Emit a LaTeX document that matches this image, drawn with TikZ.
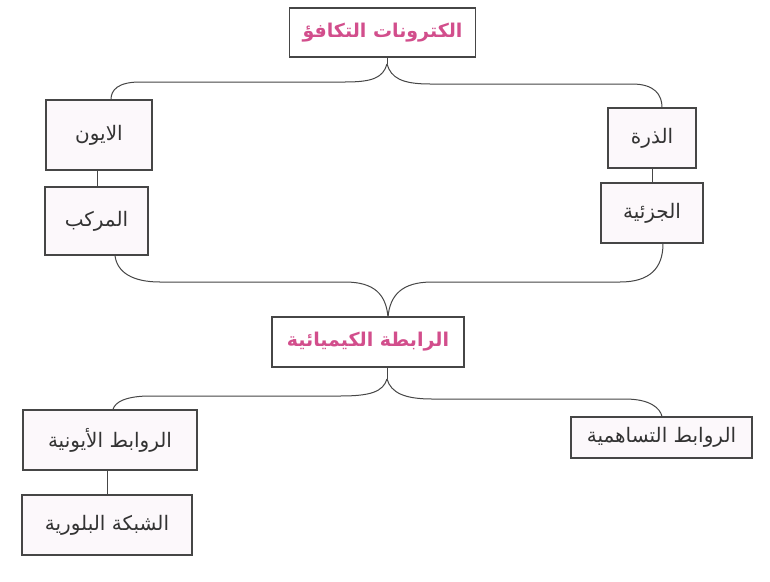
\documentclass[tikz,border=0pt]{standalone}
\usepackage{fontspec}
\newfontfamily\arabicfont[Script=Arabic]{DejaVu Sans}
\TeXXeTstate=1
\definecolor{boxfill}{RGB}{252,248,251}
\definecolor{edge}{RGB}{70,70,70}
\definecolor{titlepink}{RGB}{210,78,140}
\begin{document}
\begin{tikzpicture}[x=1pt,y=-1pt,
  box/.style={draw=edge,line width=1.2pt,fill=boxfill,inner sep=0pt,font=\arabicfont\fontsize{20}{24}\selectfont,text=black!80},
  headbox/.style={box,fill=white,font=\arabicfont\bfseries\fontsize{19}{23}\selectfont,text=titlepink},
  link/.style={draw=edge,line width=1pt}]
\useasboundingbox[fill=white] (0,0) rectangle (770,581);
\node[headbox,minimum width=186pt,minimum height=49pt] (title) at (382.5,32.5) {\beginR الكترونات التكافؤ\endR};
\node[box,minimum width=106pt,minimum height=70pt] (ion) at (99,135) {\beginR الايون\endR};
\node[box,minimum width=103pt,minimum height=68pt] (comp) at (96.5,221) {\beginR المركب\endR};
\node[box,minimum width=88pt,minimum height=60pt] (atom) at (652,138) {\beginR الذرة\endR};
\node[box,minimum width=102pt,minimum height=60pt] (mol) at (652,213) {\beginR الجزئية\endR};
\node[headbox,minimum width=192pt,minimum height=50pt] (chem) at (368,342) {\beginR الرابطة الكيميائية\endR};
\node[box,minimum width=174pt,minimum height=60pt] (ionic) at (110,440) {\beginR الروابط الأيونية\endR};
\node[box,minimum width=170pt,minimum height=60pt] (cryst) at (107,525) {\beginR الشبكة البلورية\endR};
\node[box,minimum width=181pt,minimum height=41pt] (coval) at (661.5,437.5) {\beginR الروابط التساهمية\endR};
\coordinate (c1) at (387,64);
\coordinate (c2) at (388,317);
\coordinate (c3) at (387,379);
% top brace
\draw[link] ([xshift=4.5pt]title.south) -- (c1);
\draw[link] (c1) .. controls (383,78) and (372,82) .. (345,82) -- (140,82) .. controls (118,82) and (111,90) .. ([xshift=12pt]ion.north);
\draw[link] (c1) .. controls (391,78) and (402,84) .. (430,84) -- (632,84) .. controls (655,84) and (662,95) .. ([xshift=10pt]atom.north);
% vertical links
\draw[link] ([xshift=-2pt]ion.south) -- ([xshift=0.5pt]comp.north);
\draw[link] (atom.south) -- (mol.north);
\draw[link] ([xshift=-3pt]ionic.south) -- ([xshift=0pt]cryst.north);
% middle brace
\draw[link] ([xshift=18.5pt]comp.south) .. controls (117,272) and (132,282) .. (160,282) -- (345,282) .. controls (375,282) and (386,295) .. (c2);
\draw[link] ([xshift=11pt]mol.south) .. controls (663,268) and (650,282) .. (620,282) -- (432,282) .. controls (402,282) and (390,295) .. (c2);
% bottom brace
\draw[link] ([xshift=19pt]chem.south) -- (c3);
\draw[link] (c3) .. controls (383,392) and (370,396) .. (340,396) -- (150,396) .. controls (126,396) and (115,402) .. ([xshift=3pt]ionic.north);
\draw[link] (c3) .. controls (391,393) and (405,399) .. (432,399) -- (625,399) .. controls (650,399) and (660,408) .. ([xshift=0.5pt]coval.north);
\end{tikzpicture}
\end{document}
